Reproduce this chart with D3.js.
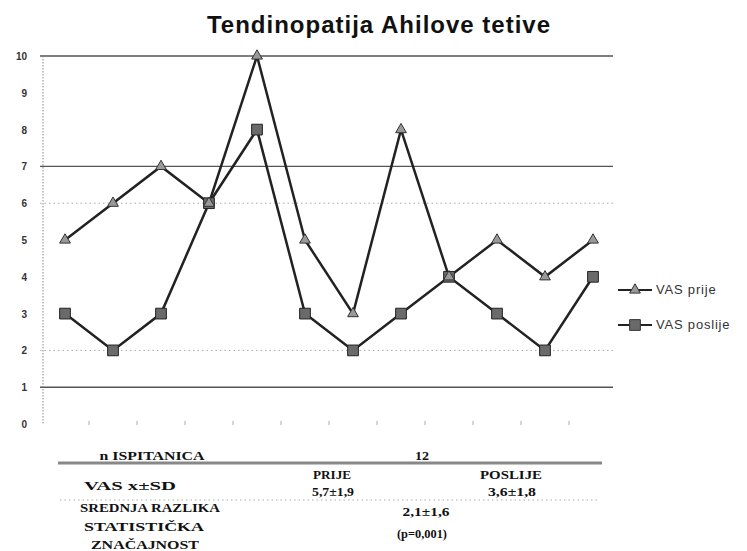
<!DOCTYPE html>
<html>
<head>
<meta charset="utf-8">
<script src="https://cdn.jsdelivr.net/npm/d3@7"></script>
<style>
  html, body { margin: 0; padding: 0; background: #fff; }
  svg { display: block; }
</style>
</head>
<body>
<svg id="chart" width="747" height="551"></svg>
<script>
const categories = ["1","2","3","4","5","6","7","8","9","10","11","12"];
const vasPrije   = [5, 6, 7, 6, 10, 5, 3, 8, 4, 5, 4, 5];
const vasPoslije = [3, 2, 3, 6, 8, 3, 2, 3, 4, 3, 2, 4];
const seriesNames = ["VAS prije", "VAS poslije"];
const yTicks = [0,1,2,3,4,5,6,7,8,9,10];
const solidGrid = [10, 7, 1];
const dottedGrid = [6, 2];
const title = "Tendinopatija Ahilove tetive";
const tableRow1 = ["n ISPITANICA", "12"];
const tableRow2 = ["VAS x±SD", "PRIJE", "5,7±1,9", "POSLIJE", "3,6±1,8"];
const tableRow3 = ["SREDNJA RAZLIKA", "STATISTIČKA", "ZNAČAJNOST", "2,1±1,6", "(p=0,001)"];

const svg = d3.select("#chart");

const x = d3.scaleBand().domain(categories).range([41, 617]).padding(0);
const y = d3.scaleLinear().domain([0, 10]).range([424, 56]);
const cx = d => x(d) + x.bandwidth() / 2;

// title
svg.append("text")
  .attr("x", 379).attr("y", 33)
  .attr("text-anchor", "middle")
  .style("font-family", "'Liberation Sans', Arial, sans-serif")
  .style("font-weight", "bold")
  .style("font-size", "24px")
  .style("letter-spacing", "1px")
  .attr("fill", "#111")
  .text(title);

// grid lines
svg.append("g").selectAll("line").data(solidGrid).join("line")
  .attr("x1", 40).attr("x2", 613)
  .attr("y1", d => y(d)).attr("y2", d => y(d))
  .attr("stroke", "#555").attr("stroke-width", 1.4);
svg.append("g").selectAll("line").data(dottedGrid).join("line")
  .attr("x1", 40).attr("x2", 613)
  .attr("y1", d => y(d)).attr("y2", d => y(d))
  .attr("stroke", "#aaa").attr("stroke-width", 1)
  .attr("stroke-dasharray", "1.5,3");

// y axis
svg.append("line")
  .attr("x1", 43).attr("x2", 43).attr("y1", y(10)).attr("y2", y(0))
  .attr("stroke", "#888").attr("stroke-width", 1).attr("stroke-dasharray", "1.5,1.5");
svg.append("g").selectAll("text").data(yTicks).join("text")
  .attr("x", 27).attr("y", d => y(d) + 4)
  .attr("text-anchor", "end")
  .style("font-family", "'Liberation Sans', Arial, sans-serif")
  .style("font-size", "10px")
  .style("font-weight", "bold")
  .attr("fill", "#333")
  .text(d => d);

// x tick marks at category boundaries
svg.append("g").selectAll("line").data(categories.slice(1)).join("line")
  .attr("x1", d => x(d)).attr("x2", d => x(d))
  .attr("y1", 421).attr("y2", 425)
  .attr("stroke", "#aaa").attr("stroke-width", 1);

// lines
const line = d3.line().x((d, i) => cx(categories[i])).y(d => y(d));
svg.append("path").datum(vasPoslije).attr("d", line)
  .attr("fill", "none").attr("stroke", "#222").attr("stroke-width", 2.5);
svg.append("path").datum(vasPrije).attr("d", line)
  .attr("fill", "none").attr("stroke", "#222").attr("stroke-width", 2.5);

const triSym = d3.symbol().type(d3.symbolTriangle).size(50);
const sqSym = d3.symbol().type(d3.symbolSquare).size(115);

svg.append("g").selectAll("path").data(vasPoslije).join("path")
  .attr("d", sqSym)
  .attr("transform", (d, i) => `translate(${cx(categories[i])},${y(d)})`)
  .attr("fill", "#6a6a6a").attr("stroke", "#222").attr("stroke-width", 1);
svg.append("g").selectAll("path").data(vasPrije).join("path")
  .attr("d", triSym)
  .attr("transform", (d, i) => `translate(${cx(categories[i])},${y(d)})`)
  .attr("fill", "#999").attr("stroke", "#333").attr("stroke-width", 1);

// legend
const legendY = [290, 325];
const lg = svg.append("g");
seriesNames.forEach((name, i) => {
  lg.append("line").attr("x1", 618).attr("x2", 652)
    .attr("y1", legendY[i]).attr("y2", legendY[i])
    .attr("stroke", "#222").attr("stroke-width", 2);
  lg.append("path")
    .attr("d", i === 0 ? triSym : sqSym)
    .attr("transform", `translate(635,${legendY[i]})`)
    .attr("fill", i === 0 ? "#999" : "#6a6a6a").attr("stroke", "#333").attr("stroke-width", 1);
  lg.append("text").attr("x", 656).attr("y", legendY[i] + 4)
    .style("font-family", "'Liberation Sans', Arial, sans-serif")
    .style("font-size", "13px")
    .style("letter-spacing", "0.8px")
    .attr("fill", "#333")
    .text(name);
});

// table under the chart
svg.append("line").attr("x1", 58).attr("x2", 602).attr("y1", 463).attr("y2", 463)
  .attr("stroke", "#888").attr("stroke-width", 3);
svg.append("line").attr("x1", 60).attr("x2", 598).attr("y1", 500).attr("y2", 500)
  .attr("stroke", "#aaa").attr("stroke-width", 1).attr("stroke-dasharray", "1.5,3");

function tText(txt, xx, yy, len) {
  const t = svg.append("text").attr("x", xx).attr("y", yy)
    .attr("text-anchor", "middle")
    .style("font-family", "'Liberation Serif', 'Times New Roman', serif")
    .style("font-weight", "bold")
    .style("font-size", "12px")
    .attr("fill", "#111")
    .text(txt);
  if (len) t.attr("textLength", len).attr("lengthAdjust", "spacingAndGlyphs");
  return t;
}
tText(tableRow1[0], 152, 460, 105);
tText(tableRow1[1], 422, 460, 14);
tText(tableRow2[0], 130, 490, 92);
tText(tableRow2[1], 332, 479, 38);
tText(tableRow2[2], 333, 496, 42);
tText(tableRow2[3], 511, 479, 62);
tText(tableRow2[4], 512, 496, 48);
tText(tableRow3[0], 150, 512, 140);
tText(tableRow3[1], 144, 531, 120);
tText(tableRow3[2], 145, 549, 108);
tText(tableRow3[3], 426, 516, 47);
tText(tableRow3[4], 422, 538, 50);
</script>
</body>
</html>
